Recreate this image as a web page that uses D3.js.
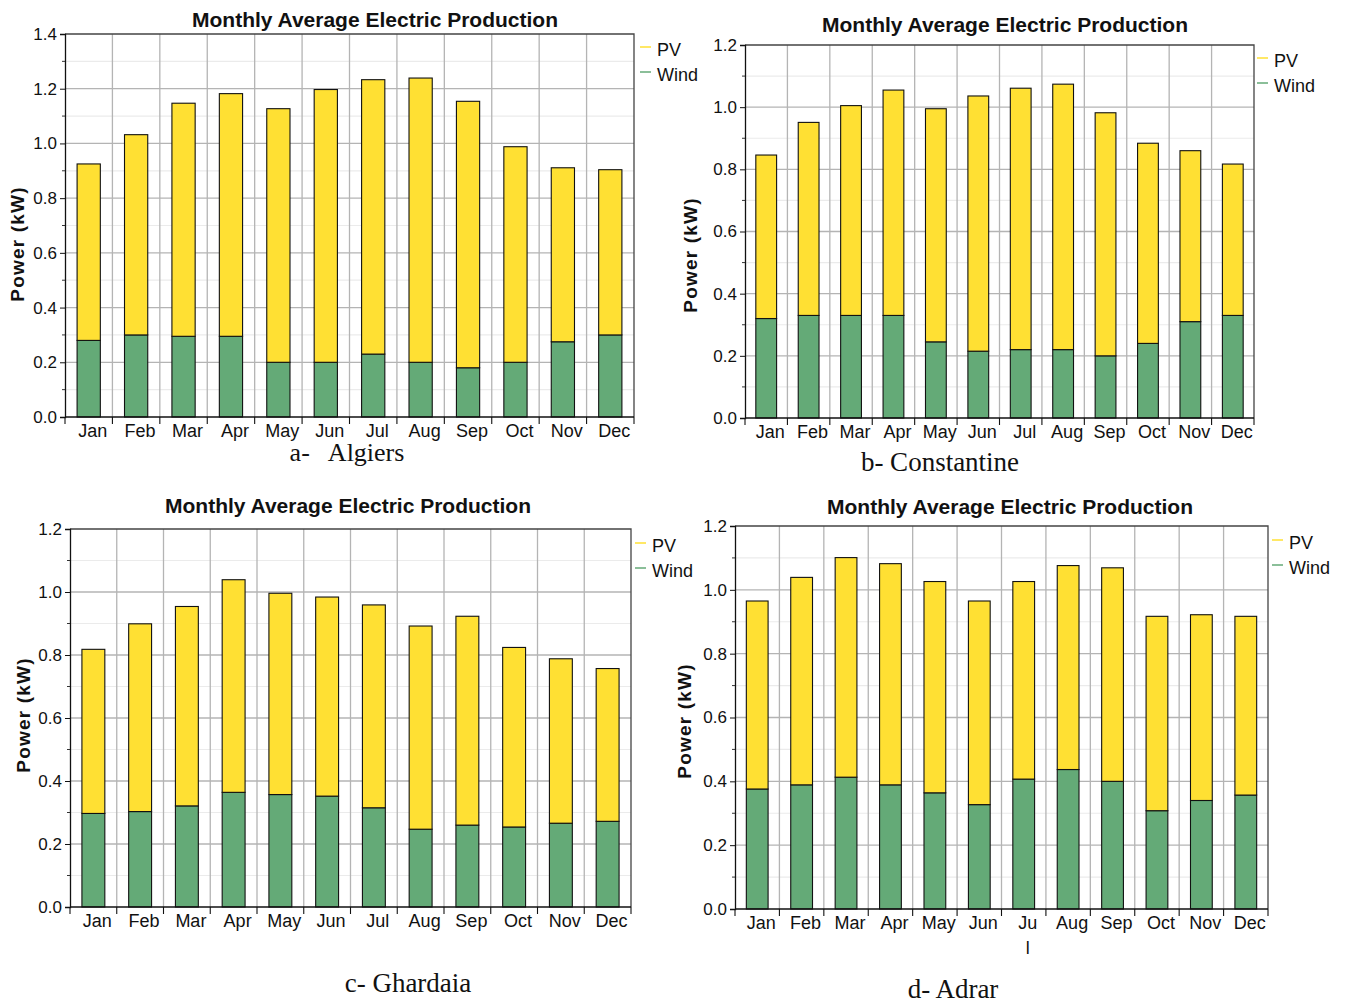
<!DOCTYPE html>
<html>
<head>
<meta charset="utf-8">
<script src="https://cdn.jsdelivr.net/npm/d3@7"></script>
<style>
  html, body { margin: 0; padding: 0; background: #fff; }
  svg { display: block; }
</style>
</head>
<body>
<svg id="chart" width="1346" height="1002"></svg>
<script>
// Month categories shared by all four sites
const months = ["Jan","Feb","Mar","Apr","May","Jun","Jul","Aug","Sep","Oct","Nov","Dec"];
const monthLabelsAdrar = ["Jan","Feb","Mar","Apr","May","Jun","Ju\nl","Aug","Sep","Oct","Nov","Dec"];
const seriesNames = ["PV","Wind"];
const yTicks14 = [0.0,0.2,0.4,0.6,0.8,1.0,1.2,1.4];
const yTicks12 = [0.0,0.2,0.4,0.6,0.8,1.0,1.2];

// Monthly average production (kW): wind at the base, PV stacked on top
const algiersWind = [0.28,0.30,0.295,0.295,0.20,0.20,0.23,0.20,0.18,0.20,0.275,0.30];
const algiersPV   = [0.645,0.732,0.852,0.887,0.927,0.997,1.003,1.039,0.974,0.788,0.636,0.604];

const constantineWind = [0.32,0.33,0.33,0.33,0.245,0.215,0.22,0.22,0.20,0.24,0.31,0.33];
const constantinePV   = [0.526,0.621,0.675,0.725,0.750,0.821,0.841,0.854,0.782,0.644,0.550,0.487];

const ghardaiaWind = [0.297,0.303,0.321,0.364,0.357,0.352,0.315,0.247,0.26,0.254,0.266,0.272];
const ghardaiaPV   = [0.521,0.596,0.633,0.675,0.639,0.632,0.644,0.645,0.663,0.570,0.522,0.485];

const adrarWind = [0.376,0.389,0.413,0.389,0.364,0.327,0.407,0.437,0.40,0.308,0.34,0.357];
const adrarPV   = [0.589,0.650,0.688,0.693,0.662,0.638,0.619,0.639,0.669,0.609,0.582,0.560];

const colors = { PV: "#FFE033", Wind: "#64AA77" };
const sansFont = "'Liberation Sans', Arial, sans-serif";
const serifFont = "'Liberation Serif', 'Times New Roman', serif";

const svg = d3.select("#chart");

function drawPanel(p) {
  const g = svg.append("g");
  const x = d3.scaleBand().domain(months).range([p.left, p.right]).padding(0);
  const y = d3.scaleLinear().domain([0, p.yMax]).range([p.bottom, p.top]);
  const barFrac = 0.49;
  const bw = x.bandwidth() * barFrac;
  const off = (x.bandwidth() - bw) / 2;

  // minor horizontal grid (odd tenths)
  const minor = d3.range(1, Math.round(p.yMax * 10)).map(v => v / 10).filter((v, i) => (i % 2) === 0);
  g.append("g").selectAll("line").data(minor).join("line")
    .attr("x1", p.left).attr("x2", p.right)
    .attr("y1", d => y(d)).attr("y2", d => y(d))
    .attr("stroke", "#ebebeb").attr("stroke-width", 1.2);

  // major horizontal grid
  g.append("g").selectAll("line").data(p.ticks.filter(t => t > 0 && t < p.yMax)).join("line")
    .attr("x1", p.left).attr("x2", p.right)
    .attr("y1", d => y(d)).attr("y2", d => y(d))
    .attr("stroke", "#b4b4b4").attr("stroke-width", 1.3);

  // vertical grid at category boundaries
  g.append("g").selectAll("line").data(months.slice(1)).join("line")
    .attr("x1", d => x(d)).attr("x2", d => x(d))
    .attr("y1", p.top).attr("y2", p.bottom)
    .attr("stroke", "#b4b4b4").attr("stroke-width", 1.3);

  // plot frame (top & right)
  g.append("path")
    .attr("d", `M${p.left},${p.top}H${p.right}V${p.bottom}`)
    .attr("fill", "none").attr("stroke", "#444").attr("stroke-width", 1.3);

  // stacked bars
  const rows = months.map((m, i) => ({ month: m, Wind: p.wind[i], PV: p.pv[i] }));
  const stacked = d3.stack().keys(["Wind", "PV"])(rows);
  g.append("g").selectAll("g").data(stacked).join("g")
    .attr("fill", d => colors[d.key])
    .selectAll("rect").data(d => d).join("rect")
    .attr("x", d => x(d.data.month) + off)
    .attr("width", bw)
    .attr("y", d => y(d[1]))
    .attr("height", d => y(d[0]) - y(d[1]))
    .attr("stroke", "#111").attr("stroke-width", 1.1);

  // y axis
  const yAxis = d3.axisLeft(y).tickValues(p.ticks).tickFormat(d3.format(".1f")).tickSize(5).tickPadding(3);
  const ya = g.append("g").attr("transform", `translate(${p.left},0)`).call(yAxis);
  ya.select(".domain").attr("stroke", "#111").attr("stroke-width", 1.3);
  ya.selectAll(".tick line").attr("stroke", "#111");
  ya.selectAll(".tick text").attr("font-family", sansFont).attr("font-size", 17).attr("fill", "#111");
  // minor y ticks
  g.append("g").selectAll("line").data(minor).join("line")
    .attr("x1", p.left - 3).attr("x2", p.left)
    .attr("y1", d => y(d)).attr("y2", d => y(d))
    .attr("stroke", "#333").attr("stroke-width", 1);

  // x axis: ticks at category boundaries, labels centred on bars
  g.append("line").attr("x1", p.left).attr("x2", p.right)
    .attr("y1", p.bottom).attr("y2", p.bottom)
    .attr("stroke", "#111").attr("stroke-width", 1.3);
  const bounds = months.map(m => x(m)).concat([p.right]);
  g.append("g").selectAll("line").data(bounds).join("line")
    .attr("x1", d => d).attr("x2", d => d)
    .attr("y1", p.bottom).attr("y2", p.bottom + 7)
    .attr("stroke", "#111").attr("stroke-width", 1.1);
  const labels = p.labels || months;
  const lt = g.append("g").selectAll("text").data(months).join("text")
    .attr("x", d => x(d) + x.bandwidth() / 2 + 4)
    .attr("y", p.bottom + 14)
    .attr("text-anchor", "middle")
    .attr("font-family", sansFont).attr("font-size", 18).attr("fill", "#111");
  lt.each(function(d, i) {
    const parts = labels[i].split("\n");
    const t = d3.select(this);
    parts.forEach((s, k) => {
      t.append("tspan").attr("x", x(d) + x.bandwidth() / 2 + 4)
        .attr("dy", k === 0 ? "0.35em" : "1.35em").text(s);
    });
  });

  // title
  g.append("text").attr("x", p.titleX).attr("y", p.titleY)
    .attr("text-anchor", "middle").attr("dy", "0.35em")
    .attr("font-family", sansFont).attr("font-weight", "bold").attr("font-size", 21)
    .attr("fill", "#111").text("Monthly Average Electric Production");

  // y title
  g.append("text")
    .attr("transform", `translate(${p.yLabX},${p.yLabY}) rotate(-90)`)
    .attr("text-anchor", "middle").attr("dy", "0.35em")
    .attr("font-family", sansFont).attr("font-weight", "bold").attr("font-size", 19)
    .attr("letter-spacing", 1.2)
    .attr("fill", "#111").text("Power (kW)");

  // legend
  const lg = g.append("g");
  seriesNames.forEach((s, i) => {
    const ly = p.legY + i * 25;
    lg.append("line").attr("x1", p.legX).attr("x2", p.legX + 11)
      .attr("y1", ly - 3).attr("y2", ly - 3)
      .attr("stroke", colors[s]).attr("stroke-width", 1.5);
    lg.append("text").attr("x", p.legX + 17).attr("y", ly).attr("dy", "0.35em")
      .attr("font-family", sansFont).attr("font-size", 18).attr("fill", "#111").text(s);
  });

  // caption
  g.append("text").attr("x", p.capX).attr("y", p.capY).attr("dy", "0.35em")
    .attr("text-anchor", "middle").attr("font-family", serifFont).attr("font-size", p.capSize || 27)
    .attr("fill", "#111").attr("xml:space", "preserve").style("white-space", "pre")
    .text(p.caption);
}

drawPanel({ left: 65, right: 634, top: 34, bottom: 417, yMax: 1.4, ticks: yTicks14,
  wind: algiersWind, pv: algiersPV,
  titleX: 375, titleY: 20, yLabX: 17, yLabY: 244, legX: 640, legY: 50,
  capX: 347, capY: 452, capSize: 26, caption: "a-   Algiers" });

drawPanel({ left: 745, right: 1254, top: 45, bottom: 418, yMax: 1.2, ticks: yTicks12,
  wind: constantineWind, pv: constantinePV,
  titleX: 1005, titleY: 25, yLabX: 690, yLabY: 255, legX: 1257, legY: 61,
  capX: 940, capY: 462, caption: "b- Constantine" });

drawPanel({ left: 70, right: 631, top: 529, bottom: 907, yMax: 1.2, ticks: yTicks12,
  wind: ghardaiaWind, pv: ghardaiaPV,
  titleX: 348, titleY: 506, yLabX: 23, yLabY: 715, legX: 635, legY: 546,
  capX: 408, capY: 983, caption: "c- Ghardaia" });

drawPanel({ left: 735, right: 1268, top: 526, bottom: 909, yMax: 1.2, ticks: yTicks12,
  wind: adrarWind, pv: adrarPV, labels: monthLabelsAdrar,
  titleX: 1010, titleY: 507, yLabX: 684, yLabY: 721, legX: 1272, legY: 543,
  capX: 953, capY: 989, caption: "d- Adrar" });
</script>
</body>
</html>
